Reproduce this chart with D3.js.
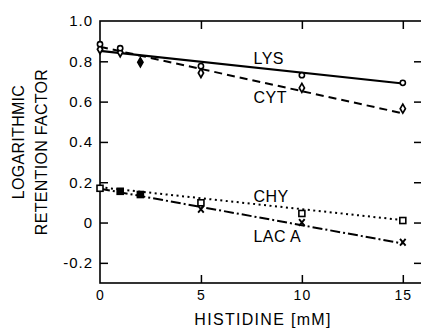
<!DOCTYPE html>
<html><head><meta charset="utf-8">
<script src="https://cdn.jsdelivr.net/npm/d3@7"></script>
<style>
html,body{margin:0;padding:0;background:#fff;}
svg text{font-family:"Liberation Sans",Arial,Helvetica,sans-serif;fill:#000;}
</style></head>
<body><svg id="c" width="421" height="333"></svg>
<script>
// ---- data ----
const xTicks = [0, 5, 10, 15];
const yTicks = [-0.2, 0, 0.2, 0.4, 0.6, 0.8, 1.0];
const yTickLabels = ["-0.2", "0", "0.2", "0.4", "0.6", "0.8", "1.0"];

const lysX = [0, 1, 5, 10, 15];
const lysY = [0.885, 0.865, 0.776, 0.731, 0.693];
const lysFit = [[0, 0.852], [15, 0.69]];

const cytX = [0, 1, 2, 5, 10, 15];
const cytY = [0.86, 0.845, 0.795, 0.742, 0.668, 0.565];
const cytFit = [[0, 0.872], [15, 0.542]];

const chyX = [0, 1, 2, 5, 10, 15];
const chyY = [0.17, 0.155, 0.139, 0.098, 0.045, 0.01];
const chyFit = [[0, 0.175], [15, 0.012]];

const lacX = [0, 1, 2, 5, 10, 15];
const lacY = [0.165, 0.155, 0.139, 0.066, 0.0, -0.098];
const lacFit = [[0, 0.168], [15, -0.104]];

const seriesLabels = [
  {text: "LYS", x: 7.6, y: 0.785},
  {text: "CYT", x: 7.6, y: 0.595},
  {text: "CHY", x: 7.6, y: 0.103},
  {text: "LAC A", x: 7.6, y: -0.095}
];

// ---- drawing ----
const svg = d3.select("#c");
const x = d3.scaleLinear().domain([0, 16]).range([100, 423]);
const y = d3.scaleLinear().domain([-0.3, 1.0]).range([283, 21]);
const L = 100, R = 422, T = 21, B = 283;

// frame
svg.append("rect").attr("x", L).attr("y", T).attr("width", R - L).attr("height", B - T)
  .attr("fill", "none").attr("stroke", "#000").attr("stroke-width", 1.6);

// bottom axis with inward ticks
const gx = svg.append("g").attr("transform", `translate(0,${B})`)
  .call(d3.axisBottom(x).tickValues(xTicks).tickSize(-8).tickPadding(7).tickFormat(d3.format("d")));
gx.select(".domain").remove();
gx.selectAll("line").attr("stroke", "#000").attr("stroke-width", 1.5);
gx.selectAll("text").attr("font-size", 14).style("letter-spacing", "1px").attr("fill", "#000");
gx.selectAll(".tick").filter(d => d === 0).select("line").remove();

// top ticks (inward)
const gt = svg.append("g").attr("transform", `translate(0,${T})`)
  .call(d3.axisTop(x).tickValues(xTicks.filter(d => d > 0)).tickSize(-8).tickFormat(""));
gt.select(".domain").remove();
gt.selectAll("line").attr("stroke", "#000").attr("stroke-width", 1.5);

// left axis (inward ticks)
const gy = svg.append("g").attr("transform", `translate(${L},0)`)
  .call(d3.axisLeft(y).tickValues(yTicks).tickSize(-8).tickPadding(7)
    .tickFormat((d, i) => yTickLabels[i]));
gy.select(".domain").remove();
gy.selectAll("line").attr("stroke", "#000").attr("stroke-width", 1.5);
gy.selectAll("text").attr("font-size", 15).style("letter-spacing", "1px").attr("fill", "#000");
gy.selectAll(".tick").filter(d => d === 1.0).select("line").remove();

// right ticks (inward)
const gr = svg.append("g").attr("transform", `translate(${R},0)`)
  .call(d3.axisRight(y).tickValues(yTicks.filter(d => d < 1)).tickSize(-8).tickFormat(""));
gr.select(".domain").remove();
gr.selectAll("line").attr("stroke", "#000").attr("stroke-width", 1.5);

// axis titles
svg.append("text").attr("x", 263).attr("y", 325).attr("text-anchor", "middle")
  .attr("font-size", 16).style("letter-spacing", "1.3px").text("HISTIDINE [mM]");
svg.append("text").attr("transform", "translate(24,142) rotate(-90)").attr("text-anchor", "middle")
  .attr("font-size", 16).style("letter-spacing", "0.3px").text("LOGARITHMIC");
svg.append("text").attr("transform", "translate(47,152) rotate(-90)").attr("text-anchor", "middle")
  .attr("font-size", 16).style("letter-spacing", "0.3px").text("RETENTION FACTOR");

// fitted lines
const line = d3.line().x(d => x(d[0])).y(d => y(d[1]));
svg.append("path").attr("d", line(lysFit)).attr("fill", "none").attr("stroke", "#000").attr("stroke-width", 2.2);
svg.append("path").attr("d", line(cytFit)).attr("fill", "none").attr("stroke", "#000").attr("stroke-width", 2)
  .attr("stroke-dasharray", "8,5");
svg.append("path").attr("d", line(chyFit)).attr("fill", "none").attr("stroke", "#000").attr("stroke-width", 2)
  .attr("stroke-dasharray", "2,3.5");
svg.append("path").attr("d", line(lacFit)).attr("fill", "none").attr("stroke", "#000").attr("stroke-width", 2)
  .attr("stroke-dasharray", "10,3,2,3");

// markers
const lacSet = new Set(lacX.filter(v => v > 0 && v < 5));
// CYT diamonds
svg.append("g").selectAll("path").data(cytX.map((v, i) => [v, cytY[i]])).join("path")
  .attr("d", "M0,-4.5 L2.6,0 L0,4.5 L-2.6,0 Z")
  .attr("transform", d => `translate(${x(d[0])},${y(d[1])})`)
  .attr("fill", d => d[0] === 2 ? "#000" : "#fff").attr("stroke", "#000").attr("stroke-width", 1.7);
// LYS circles
svg.append("g").selectAll("circle").data(lysX.map((v, i) => [v, lysY[i]])).join("circle")
  .attr("cx", d => x(d[0])).attr("cy", d => y(d[1])).attr("r", 2.6)
  .attr("fill", "#fff").attr("stroke", "#000").attr("stroke-width", 1.6);
// LAC A crosses
svg.append("g").selectAll("path").data(lacX.map((v, i) => [v, lacY[i]]).filter(d => d[0] >= 5)).join("path")
  .attr("d", "M-2.8,-3.3 L2.8,3.3 M2.8,-3.3 L-2.8,3.3")
  .attr("transform", d => `translate(${x(d[0])},${y(d[1])})`)
  .attr("fill", "none").attr("stroke", "#000").attr("stroke-width", 1.9);
// CHY squares (filled where coincident with LAC A)
svg.append("g").selectAll("rect").data(chyX.map((v, i) => [v, chyY[i]])).join("rect")
  .attr("x", d => x(d[0]) - 3).attr("y", d => y(d[1]) - 3).attr("width", 6).attr("height", 6)
  .attr("fill", d => lacSet.has(d[0]) ? "#000" : "#fff").attr("stroke", "#000").attr("stroke-width", 1.6);

// series labels
svg.append("g").selectAll("text").data(seriesLabels).join("text")
  .attr("x", d => x(d.x)).attr("y", d => y(d.y)).attr("font-size", 16)
  .style("letter-spacing", "0.5px").text(d => d.text);
</script></body></html>
